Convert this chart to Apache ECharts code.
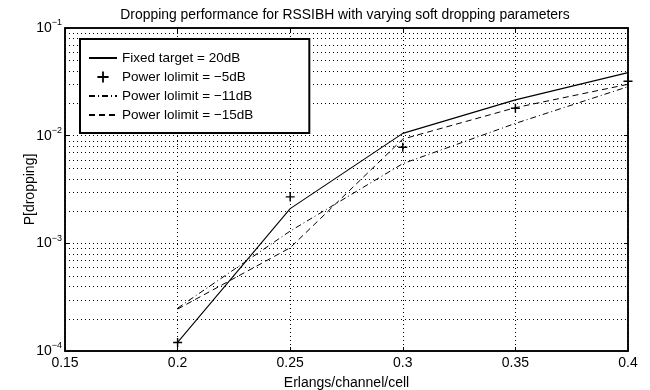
<!DOCTYPE html>
<html>
<head>
<meta charset="utf-8">
<script src="https://cdn.jsdelivr.net/npm/echarts@6/dist/echarts.min.js"></script>
<style>
    html,body{margin:0;padding:0;background:#fff;}
    #main{width:650px;height:390px;}
</style>
</head>
<body>
<div id="main"></div>
<script>
// 横轴 Erlangs/channel/cell
var erlangs = [0.2, 0.25, 0.3, 0.35, 0.4];
var xTicks = [0.15, 0.2, 0.25, 0.3, 0.35, 0.4];
var yDecades = [1e-4, 1e-3, 1e-2, 1e-1];

// 四条曲线 P[dropping]
var fixedTarget = [1.2e-4, 2.1e-3, 1.05e-2, 2.15e-2, 3.85e-2];
var lolimit5 = [1.2e-4, 2.7e-3, 7.8e-3, 1.8e-2, 3.2e-2];
var lolimit11 = [2.5e-4, 1.3e-3, 5.5e-3, 1.3e-2, 2.85e-2];
var lolimit15 = [2.45e-4, 9.1e-4, 9.3e-3, 1.82e-2, 3.0e-2];

var names = ['Fixed target = 20dB', 'Power lolimit = \u22125dB', 'Power lolimit = \u221211dB', 'Power lolimit = \u221215dB'];

function pairs(xs, ys){
    var out = [];
    for(var i=0;i<xs.length;i++){
        out.push([xs[i], ys[i]]);
    }
    return out;
}

// 对数轴上 2..9 的次网格线位置
function minorGrid(){
    var lines = [];
    for(var d=0; d<yDecades.length-1; d++){
        for(var k=2;k<=9;k++){
            lines.push([xTicks[0], yDecades[d]*k]);
        }
    }
    return lines;
}

var dotted = {color:'#000', width:1, type:[1,3]};
var font = 'Liberation Sans, Arial, sans-serif';

var myChart = echarts.init(document.getElementById('main'), null, {renderer:'canvas'});
var option = {
    backgroundColor:'#fff',
    animation:false,
    title:{
        text:'Dropping performance for RSSIBH with varying soft dropping parameters',
        left:340,
        textAlign:'center',
        top:3,
        textStyle:{fontFamily:font, fontSize:13.9, fontWeight:'normal', color:'#000'}
    },
    grid:{left:65, right:22, top:28, bottom:39, show:true, borderColor:'#000', borderWidth:1.5, outerBoundsMode:'none'},
    legend:{
        orient:'vertical',
        left:80,
        top:39,
        padding:[12,56,11,8],
        itemGap:5,
        itemWidth:28,
        itemHeight:14,
        backgroundColor:'#fff',
        borderColor:'#000',
        borderWidth:2,
        borderRadius:0,
        textStyle:{fontFamily:font, fontSize:13.5, color:'#000'},
        data:[
            {name:names[0], itemStyle:{opacity:0}},
            {name:names[1]},
            {name:names[2], itemStyle:{opacity:0}},
            {name:names[3], itemStyle:{opacity:0}}
        ]
    },
    xAxis:[{
        type:'value',
        min:xTicks[0],
        max:xTicks[xTicks.length-1],
        interval:0.05,
        name:'Erlangs/channel/cell',
        nameLocation:'middle',
        nameGap:25,
        nameMoveOverlap:false,
        nameTextStyle:{fontFamily:font, fontSize:14, color:'#000'},
        axisLine:{show:true, lineStyle:{color:'#000', width:1.5}},
        axisTick:{show:true, inside:true, length:4, lineStyle:{color:'#000'}},
        axisLabel:{fontFamily:font, fontSize:14, color:'#000', margin:5,
            formatter:function(v){ return String(Math.round(v*100)/100); }},
        splitLine:{show:true, lineStyle:dotted}
    },{
        type:'value',
        position:'top',
        min:xTicks[0],
        max:xTicks[xTicks.length-1],
        interval:0.05,
        axisLine:{show:true, lineStyle:{color:'#000', width:1.5}},
        axisTick:{show:true, inside:true, length:4, lineStyle:{color:'#000'}},
        axisLabel:{show:false},
        splitLine:{show:false}
    }],
    yAxis:[{
        type:'log',
        logBase:10,
        min:yDecades[0],
        max:yDecades[yDecades.length-1],
        name:'P[dropping]',
        nameLocation:'middle',
        nameGap:28,
        nameMoveOverlap:false,
        nameTextStyle:{fontFamily:font, fontSize:14, color:'#000'},
        axisLine:{show:true, lineStyle:{color:'#000', width:1.5}},
        axisTick:{show:true, inside:true, length:4, lineStyle:{color:'#000'}},
        axisLabel:{
            fontFamily:font, fontSize:14, color:'#000', margin:3,
            formatter:function(v){
                var e = Math.round(Math.log(v)/Math.LN10);
                return '10{sup|\u2212' + (-e) + '}';
            },
            rich:{sup:{fontSize:9, fontFamily:font, color:'#000', padding:[0,0,10,0]}}
        },
        splitLine:{show:true, lineStyle:dotted}
    },{
        type:'log',
        logBase:10,
        position:'right',
        min:yDecades[0],
        max:yDecades[yDecades.length-1],
        axisLine:{show:true, lineStyle:{color:'#000', width:1.5}},
        axisTick:{show:true, inside:true, length:4, lineStyle:{color:'#000'}},
        axisLabel:{show:false},
        splitLine:{show:false}
    }],
    series:[{
        // 次网格线
        name:'minor',
        type:'custom',
        silent:true,
        z:1,
        data:minorGrid(),
        renderItem:function(params, api){
            var p = api.coord([api.value(0), api.value(1)]);
            var cs = params.coordSys;
            return {
                type:'line',
                shape:{x1:cs.x, y1:Math.round(p[1])+0.5, x2:cs.x+cs.width, y2:Math.round(p[1])+0.5},
                style:{stroke:'#000', lineWidth:1, lineDash:[1,3]}
            };
        }
    },{
        name:names[0],
        type:'line',
        data:pairs(erlangs, fixedTarget),
        symbol:'none',
        lineStyle:{color:'#000', width:1.1, type:'solid'},
        itemStyle:{color:'#000'},
        z:5
    },{
        name:names[1],
        type:'line',
        data:pairs(erlangs, lolimit5),
        symbol:'path://M4.2,0h1.6v4.2h4.2v1.6h-4.2v4.2h-1.6v-4.2h-4.2v-1.6h4.2z',
        symbolSize:9,
        showSymbol:true,
        lineStyle:{color:'#000', width:0, opacity:0},
        itemStyle:{color:'#000'},
        z:6
    },{
        name:names[2],
        type:'line',
        data:pairs(erlangs, lolimit11),
        symbol:'none',
        lineStyle:{color:'#000', width:1, type:[6,3,1,3]},
        itemStyle:{color:'#000'},
        z:5
    },{
        name:names[3],
        type:'line',
        data:pairs(erlangs, lolimit15),
        symbol:'none',
        lineStyle:{color:'#000', width:1, type:[6,4]},
        itemStyle:{color:'#000'},
        z:5
    }]
};
myChart.setOption(option);
</script>
</body>
</html>
